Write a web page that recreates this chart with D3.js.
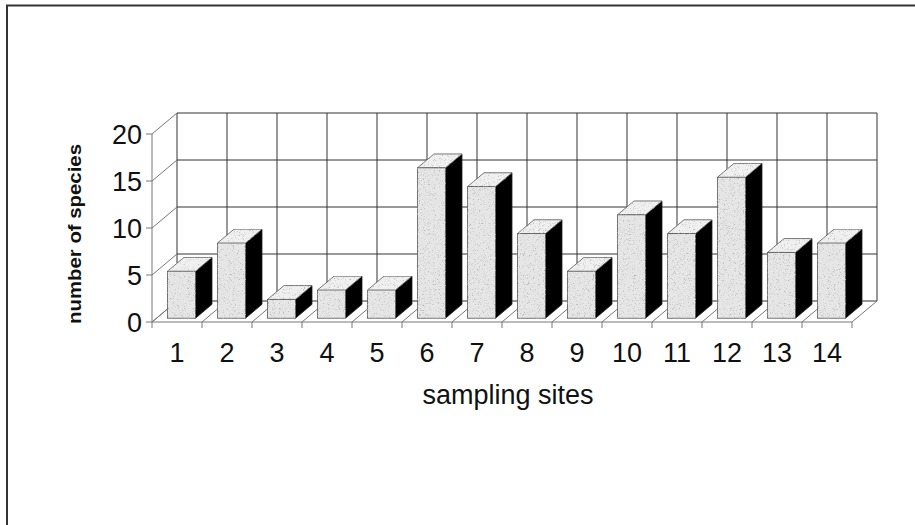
<!DOCTYPE html>
<html>
<head>
<meta charset="utf-8">
<script src="https://cdn.jsdelivr.net/npm/d3@7"></script>
<style>
  body { margin: 0; background: #fff; }
  text { font-family: "Liberation Sans", Arial, sans-serif; fill: #111; }
</style>
</head>
<body>
<svg id="chart" width="915" height="525"></svg>
<script>
// data
const sites = ["1","2","3","4","5","6","7","8","9","10","11","12","13","14"];
const species = [5, 8, 2, 3, 3, 16, 14, 9, 5, 11, 9, 15, 7, 8];
const yTicks = [0, 5, 10, 15, 20];

const data = sites.map((s, i) => ({site: s, n: species[i]}));

// 3d wall depth
let depthX = 25, depthY = 21;
let barFront = 0.18, barBack = 0.84;

let svg = d3.select("#chart");

// stipple texture for the bar faces
let defs = svg.append("defs");
let filt = defs.append("filter").attr("id", "stipple")
    .attr("x", 0).attr("y", 0).attr("width", 1).attr("height", 1);
filt.append("feTurbulence").attr("type", "fractalNoise")
    .attr("baseFrequency", 1.2).attr("numOctaves", 2).attr("seed", 3).attr("result", "noise");
filt.append("feColorMatrix").attr("in", "noise").attr("type", "matrix")
    .attr("values", "0 0 0 0 0.45  0 0 0 0 0.45  0 0 0 0 0.45  4 0 0 0 -2.3")
    .attr("result", "dots");
filt.append("feComposite").attr("in", "dots").attr("in2", "SourceGraphic")
    .attr("operator", "in").attr("result", "dots2");
let merge = filt.append("feMerge");
merge.append("feMergeNode").attr("in", "SourceGraphic");
merge.append("feMergeNode").attr("in", "dots2");

// frame
svg.append("rect")
    .attr("x", 7).attr("y", 5.5)
    .attr("width", 940).attr("height", 560)
    .attr("fill", "white")
    .attr("stroke", "#333").attr("stroke-width", 2);

let x = d3.scaleBand()
    .domain(sites)
    .range([152, 852])
    .paddingInner(0.44)
    .paddingOuter(0.22);

let xEdge = d3.scaleLinear().domain([0, sites.length]).range([152, 852]);

let y = d3.scaleLinear()
    .domain([0, 20])
    .range([322, 134]);

let grid = svg.append("g").attr("stroke", "#333").attr("stroke-width", 1).attr("fill", "none");

// back wall horizontals
grid.selectAll(".bh").data(yTicks).enter().append("line")
    .attr("x1", xEdge(0) + depthX).attr("x2", xEdge(sites.length) + depthX)
    .attr("y1", d => y(d) - depthY).attr("y2", d => y(d) - depthY);

// back wall verticals
grid.selectAll(".bv").data(d3.range(sites.length + 1)).enter().append("line")
    .attr("x1", d => xEdge(d) + depthX).attr("x2", d => xEdge(d) + depthX)
    .attr("y1", y(0) - depthY).attr("y2", y(20) - depthY);

// side wall diagonals
grid.selectAll(".sd").data(yTicks).enter().append("line")
    .attr("x1", xEdge(0)).attr("x2", xEdge(0) + depthX)
    .attr("y1", d => y(d)).attr("y2", d => y(d) - depthY)
    .attr("stroke", "#777");

// floor diagonals
grid.selectAll(".fd").data(d3.range(sites.length + 1)).enter().append("line")
    .attr("x1", d => xEdge(d)).attr("x2", d => xEdge(d) + depthX)
    .attr("y1", y(0)).attr("y2", y(0) - depthY)
    .attr("stroke", "#777");

// front floor edge + y axis line
grid.append("line")
    .attr("x1", xEdge(0)).attr("x2", xEdge(sites.length))
    .attr("y1", y(0)).attr("y2", y(0)).attr("stroke", "#777");
grid.append("line")
    .attr("x1", xEdge(0)).attr("x2", xEdge(0))
    .attr("y1", y(0)).attr("y2", y(20)).attr("stroke", "#777");

// ticks
grid.selectAll(".yt").data(yTicks).enter().append("line")
    .attr("x1", xEdge(0) - 6).attr("x2", xEdge(0))
    .attr("y1", d => y(d)).attr("y2", d => y(d)).attr("stroke", "#777");
grid.selectAll(".xt").data(d3.range(sites.length + 1)).enter().append("line")
    .attr("x1", d => xEdge(d)).attr("x2", d => xEdge(d))
    .attr("y1", y(0)).attr("y2", y(0) + 6).attr("stroke", "#777");

// bars
let fx = barFront * depthX, fy = barFront * depthY;
let bx = (barBack - barFront) * depthX, by = (barBack - barFront) * depthY;

let bars = svg.append("g").selectAll("g").data(data).enter().append("g")
    .attr("transform", "translate(" + fx + "," + (-fy) + ")");

bars.append("polygon")   // side
    .attr("points", d => {
        let r = x(d.site) + x.bandwidth(), t = y(d.n), b = y(0);
        return [[r, t], [r + bx, t - by], [r + bx, b - by], [r, b]].join(" ");
    })
    .attr("fill", "#000").attr("stroke", "#222").attr("stroke-width", 0.8);

bars.append("polygon")   // top
    .attr("points", d => {
        let l = x(d.site), r = l + x.bandwidth(), t = y(d.n);
        return [[l, t], [r, t], [r + bx, t - by], [l + bx, t - by]].join(" ");
    })
    .attr("fill", "#f0f0f0").attr("stroke", "#555").attr("stroke-width", 0.8)
    .attr("filter", "url(#stipple)");

bars.append("rect")      // front
    .attr("x", d => x(d.site))
    .attr("y", d => y(d.n))
    .attr("width", x.bandwidth())
    .attr("height", d => y(0) - y(d.n))
    .attr("fill", "#e6e6e6").attr("stroke", "#555").attr("stroke-width", 0.8)
    .attr("filter", "url(#stipple)");

// tick labels
svg.append("g").selectAll("text").data(yTicks).enter().append("text")
    .attr("x", 142).attr("y", d => y(d)).attr("dy", "0.36em")
    .attr("text-anchor", "end").attr("font-size", 27)
    .text(d => d);

svg.append("g").selectAll("text").data(sites).enter().append("text")
    .attr("x", (d, i) => (xEdge(i) + xEdge(i + 1)) / 2)
    .attr("y", 362)
    .attr("text-anchor", "middle").attr("font-size", 27)
    .text(d => d);

// axis titles
svg.append("text")
    .attr("x", 508).attr("y", 404)
    .attr("text-anchor", "middle").attr("font-size", 27)
    .text("sampling sites");

svg.append("text")
    .attr("transform", "translate(81,234) rotate(-90)")
    .attr("text-anchor", "middle").attr("font-size", 18).attr("font-weight", "bold")
    .attr("textLength", 180).attr("lengthAdjust", "spacingAndGlyphs")
    .text("number of species");
</script>
</body>
</html>
